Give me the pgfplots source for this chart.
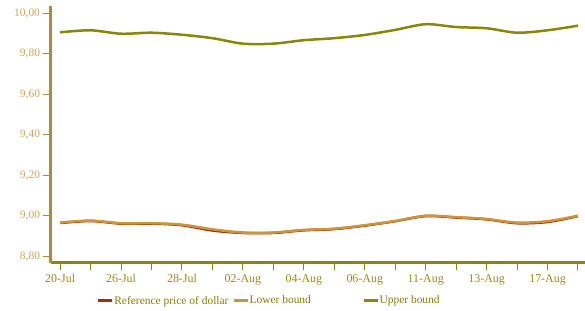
\documentclass[border=0pt]{standalone}
\usepackage{pgfplots}
\pgfplotsset{compat=1.18}
\usepackage{fontspec}
\setmainfont{Liberation Serif}
\definecolor{upc}{RGB}{135,135,10}
\definecolor{lowc}{RGB}{200,150,62}
\definecolor{refc}{RGB}{165,45,10}
\definecolor{yaxc}{RGB}{176,138,58}
\definecolor{ylabc}{RGB}{205,165,95}
\definecolor{xlabc}{RGB}{150,140,30}
\definecolor{legc}{RGB}{135,125,10}
\begin{document}
\begin{tikzpicture}
\useasboundingbox (-51bp,-48.5bp) rectangle (534bp,262.5bp);
\begin{axis}[
  at={(0,0)}, anchor=south west,
  scale only axis, width=534bp, height=256.5bp,
  xmin=-0.3, xmax=17.23, ymin=8.770, ymax=10.037,
  axis lines=left,
  axis line style={-},
  x axis line style={draw=upc, line width=2.2bp},
  y axis line style={draw=yaxc, line width=3bp},
  tick align=outside,
  major tick length=7.5bp,
  xtick={0,...,17},
  xticklabels={20-Jul,,26-Jul,,28-Jul,,02-Aug,,04-Aug,,06-Aug,,11-Aug,,13-Aug,,17-Aug,},
  ytick={8.8,9.0,...,10.01},
  x tick style={draw=upc, line width=1bp},
  y tick style={draw=yaxc, line width=1bp},
  x tick label style={font=\fontsize{12}{14}\selectfont, text=xlabc, yshift=-1bp},
  y tick label style={font=\fontsize{11.5}{13}\selectfont, text=ylabc},
  yticklabel style={/pgf/number format/.cd, fixed, fixed zerofill, precision=2, use comma, assume math mode=true},
  scaled y ticks=false,
  legend columns=3,
  legend style={at={(0.0855,-0.149)}, anchor=west, draw=none, fill=none,
    font=\fontsize{11.5}{13}\selectfont, text=legc,
    /tikz/every odd column/.append style={column sep=0bp},
    /tikz/every even column/.append style={column sep=3bp},
    nodes={inner xsep=0.5bp},
    inner sep=0pt},
  legend image code/.code={\draw[line width=3bp] (0bp,0bp) -- (14bp,0bp);},
  legend cell align=left,
]
\addplot[refc, line width=2.5bp, smooth, tension=0.5] coordinates {
(0,8.965) (1,8.975) (2,8.962) (3,8.962) (4,8.954) (5,8.928) (6,8.916) (7,8.916) (8,8.929) (9,8.935) (10,8.952) (11,8.974) (12,8.999) (13,8.992) (14,8.983) (15,8.964) (16,8.970) (17,8.999)};
\addlegendentry{Reference price of dollar}
\addplot[lowc, line width=2.5bp, smooth, tension=0.5] coordinates {
(0,8.967) (1,8.977) (2,8.964) (3,8.964) (4,8.957) (5,8.934) (6,8.918) (7,8.918) (8,8.931) (9,8.937) (10,8.954) (11,8.975) (12,9.001) (13,8.994) (14,8.985) (15,8.967) (16,8.974) (17,9.001)};
\addlegendentry{\makebox[109bp][l]{Lower bound}}
\addplot[upc, line width=2.5bp, smooth, tension=0.5] coordinates {
(0,9.907) (1,9.917) (2,9.900) (3,9.905) (4,9.895) (5,9.878) (6,9.851) (7,9.851) (8,9.868) (9,9.878) (10,9.894) (11,9.919) (12,9.947) (13,9.933) (14,9.927) (15,9.905) (16,9.917) (17,9.940)};
\addlegendentry{Upper bound}
\end{axis}
\end{tikzpicture}
\end{document}
